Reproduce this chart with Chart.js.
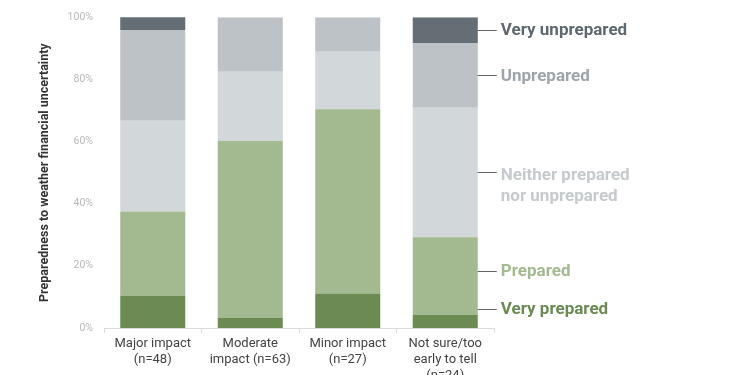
<!DOCTYPE html>
<html>
<head>
<meta charset="utf-8">
<script src="https://cdn.jsdelivr.net/npm/chart.js@4/dist/chart.umd.min.js"></script>
<style>
  html, body { margin: 0; padding: 0; background: #fff; }
  #wrap { width: 750px; height: 375px; position: relative; }
</style>
</head>
<body>
<div id="wrap"><canvas id="chart"></canvas></div>
<script>
// categories (multi-line labels)
const categories = [
  ['Major impact', '(n=48)'],
  ['Moderate', 'impact (n=63)'],
  ['Minor impact', '(n=27)'],
  ['Not sure/too', 'early to tell', '(n=24)']
];

// shares in %, bottom to top
const veryPrepared = [10.4, 3.2, 11.1, 4.2];
const prepared = [27.1, 57.1, 59.3, 25.0];
const neither = [29.2, 22.2, 18.5, 41.7];
const unprepared = [29.2, 17.5, 11.1, 20.8];
const veryUnprepared = [4.2, 0, 0, 8.3];

const seriesNames = [['Very prepared'], ['Prepared'], ['Neither prepared', 'nor unprepared'], ['Unprepared'], ['Very unprepared']];
const barColors = ['#6b8b52', '#a3b98f', '#d2d7da', '#bcc2c5', '#656e75'];
const labelColors = ['#6b8b52', '#a3b98f', '#c5cacd', '#9ea5aa', '#5f6870'];

const yTicks = [0, 20, 40, 60, 80, 100];

const FONT = 'Roboto, "Noto Sans", sans-serif';

// labels to the right of the last bar, pushed apart if they collide
const sideLabels = {
  id: 'sideLabels',
  afterDatasetsDraw(chart) {
    const ctx = chart.ctx;
    const last = categories.length - 1;
    const gap = 38;
    let pos = chart.data.datasets.map((ds, i) => {
      const el = chart.getDatasetMeta(i).data[last];
      return { i, x: el.x + el.width / 2, y: (el.y + el.base) / 2 };
    });
    // bottom to top: keep text above axis and keep spacing
    let limit = chart.chartArea.bottom - 19;
    pos.forEach(p => {
      if (p.y > limit) p.y = limit;
      limit = p.y - gap;
    });
    ctx.save();
    pos.forEach(p => {
      ctx.strokeStyle = '#666';
      ctx.lineWidth = 1;
      ctx.beginPath();
      ctx.moveTo(p.x, Math.round(p.y) + 0.5);
      ctx.lineTo(p.x + 19, Math.round(p.y) + 0.5);
      ctx.stroke();
      ctx.fillStyle = labelColors[p.i];
      ctx.font = 'bold 17px ' + FONT;
      ctx.textAlign = 'left';
      ctx.textBaseline = 'middle';
      const lines = seriesNames[p.i];
      const shift = lines.length > 1 ? 3 : 1;
      lines.forEach((line, k) => {
        ctx.fillText(line, p.x + 23, p.y + shift + k * 21);
      });
    });
    ctx.restore();
  }
};

const datasets = [veryPrepared, prepared, neither, unprepared, veryUnprepared].map((d, i) => ({
  label: seriesNames[i].join(' '),
  data: d,
  backgroundColor: barColors[i],
  borderWidth: 0,
  barPercentage: 0.667,
  categoryPercentage: 1
}));

new Chart(document.getElementById('chart'), {
  type: 'bar',
  data: { labels: categories, datasets: datasets },
  options: {
    responsive: true,
    maintainAspectRatio: false,
    animation: false,
    layout: { padding: { top: 16, right: 256, left: 0, bottom: 0 } },
    plugins: {
      legend: { display: false },
      tooltip: { enabled: false }
    },
    scales: {
      x: {
        stacked: true,
        afterFit: (s) => { s.height = 47; },
        grid: { drawOnChartArea: false, color: '#dcdcdc', tickLength: 5, offset: true },
        border: { color: '#dcdcdc' },
        ticks: {
          color: '#444',
          font: { family: FONT, size: 13, lineHeight: 1.23 },
          padding: 3,
          maxRotation: 0,
          autoSkip: false
        }
      },
      y: {
        stacked: true,
        min: 0,
        max: 100,
        afterFit: (s) => { s.width = 104; },
        afterBuildTicks: (s) => { s.ticks = yTicks.map(v => ({ value: v })); },
        grid: { display: false, drawTicks: false },
        border: { display: false },
        title: {
          display: true,
          text: 'Preparedness to weather financial uncertainty',
          color: '#333',
          font: { family: FONT, size: 12.5, weight: 'bold' },
          padding: { top: 37, bottom: 0 }
        },
        ticks: {
          color: '#b8b8b8',
          font: { family: FONT, size: 10.5 },
          padding: 11,
          callback: (v) => v + '%'
        }
      }
    }
  },
  plugins: [sideLabels]
});
</script>
</body>
</html>
